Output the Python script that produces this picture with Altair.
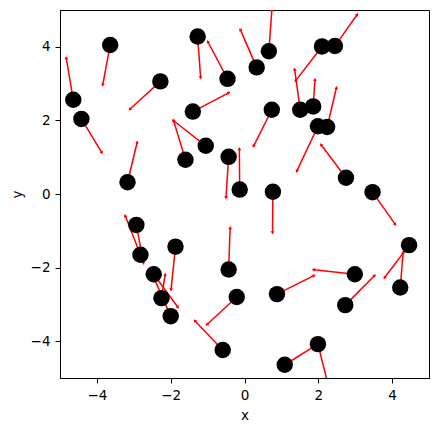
import altair as alt
import pandas as pd

xs = [-4.64, -4.42, -3.64, -3.17, -2.93, -2.82, -2.46, -2.25, -2.00, -1.87,
      -2.28, -1.40, -1.60, -1.05, -1.27, -0.46, -0.43, -0.13, -0.43, -0.21,
      -0.59, 0.33, 0.66, 0.74, 0.77, 0.88, 1.09, 1.51, 1.86, 1.99,
      2.24, 2.10, 2.45, 2.75, 3.47, 4.46, 4.22, 2.99, 2.73, 1.99]
ys = [2.56, 2.04, 4.05, 0.32, -0.84, -1.65, -2.18, -2.83, -3.32, -1.43,
      3.06, 2.24, 0.93, 1.31, 4.28, 3.13, 1.01, 0.12, -2.05, -2.80,
      -4.24, 3.44, 3.88, 2.29, 0.06, -2.72, -4.64, 2.29, 2.38, 1.84,
      1.82, 4.01, 4.02, 0.44, 0.05, -1.39, -2.54, -2.18, -3.02, -4.08]
us = [-0.19, 0.55, -0.20, 0.26, 0.19, -0.41, 0.65, 0.10, -0.42, -0.12,
      -0.82, 0.97, -0.32, -0.87, 0.08, -0.53, -0.07, -0.01, 0.04, -0.80,
      -0.75, -0.44, 0.08, -0.49, -0.01, 1.00, 0.90, -0.15, 0.05, -0.57,
      0.25, -0.71, 0.60, -0.67, 0.61, -0.66, 0.08, -1.11, 0.79, 0.25]
vs = [1.13, -0.91, -1.08, 1.08, -1.03, 1.05, -0.89, 0.63, 0.96, -1.16,
      -0.75, 0.51, 1.06, 0.68, -1.11, 1.00, -1.10, 1.10, 1.12, -0.74,
      0.79, 1.02, 1.11, -0.98, -1.10, 0.50, 0.56, 1.09, 0.72, -1.21,
      1.06, -0.93, 0.85, 0.89, -0.87, -0.88, 0.95, 0.12, 0.80, -1.00]

df = pd.DataFrame({"x": xs, "y": ys, "u": us, "v": vs})

xscale = alt.Scale(domain=[-5, 5], nice=False, zero=False)
yscale = alt.Scale(domain=[-5, 5], nice=False, zero=False)
xaxis = alt.Axis(values=[-4, -2, 0, 2, 4], title="x", grid=False, titlePadding=7)
yaxis = alt.Axis(values=[-4, -2, 0, 2, 4], title="y", grid=False, titlePadding=6)

base = alt.Chart(df).transform_calculate(
    xe="datum.x + datum.u",
    ye="datum.y + datum.v",
    ang="(atan2(datum.u, datum.v) * 180 / PI + 360) % 360",
)

shafts = base.mark_rule(color="red", strokeWidth=1.5, clip=True).encode(
    x=alt.X("x:Q", scale=xscale, axis=xaxis),
    y=alt.Y("y:Q", scale=yscale, axis=yaxis),
    x2="xe:Q",
    y2="ye:Q",
)

heads = base.mark_point(shape="triangle", filled=True, color="red", size=14, opacity=1, clip=True).encode(
    x=alt.X("xe:Q", scale=xscale, axis=xaxis),
    y=alt.Y("ye:Q", scale=yscale, axis=yaxis),
    angle=alt.Angle("ang:Q", scale=None),
)

points = base.mark_circle(color="black", size=270, opacity=1).encode(
    x=alt.X("x:Q", scale=xscale, axis=xaxis),
    y=alt.Y("y:Q", scale=yscale, axis=yaxis),
)

chart = alt.layer(shafts, heads, points).properties(
    width=369,
    height=368,
    autosize="none",
    padding={"left": 52, "top": 2, "right": 2, "bottom": 46},
).configure_view(
    stroke="black", strokeWidth=1
).configure_axis(
    domainColor="black", tickColor="black", labelColor="black", titleColor="black",
    labelFont="DejaVu Sans", titleFont="DejaVu Sans", labelFontSize=13.5, titleFontSize=13.5,
    titleFontWeight="normal", tickSize=5, labelPadding=5, domainWidth=1, tickWidth=1,
)

chart.save("out.html", embed_options={"renderer": "svg", "actions": False})
